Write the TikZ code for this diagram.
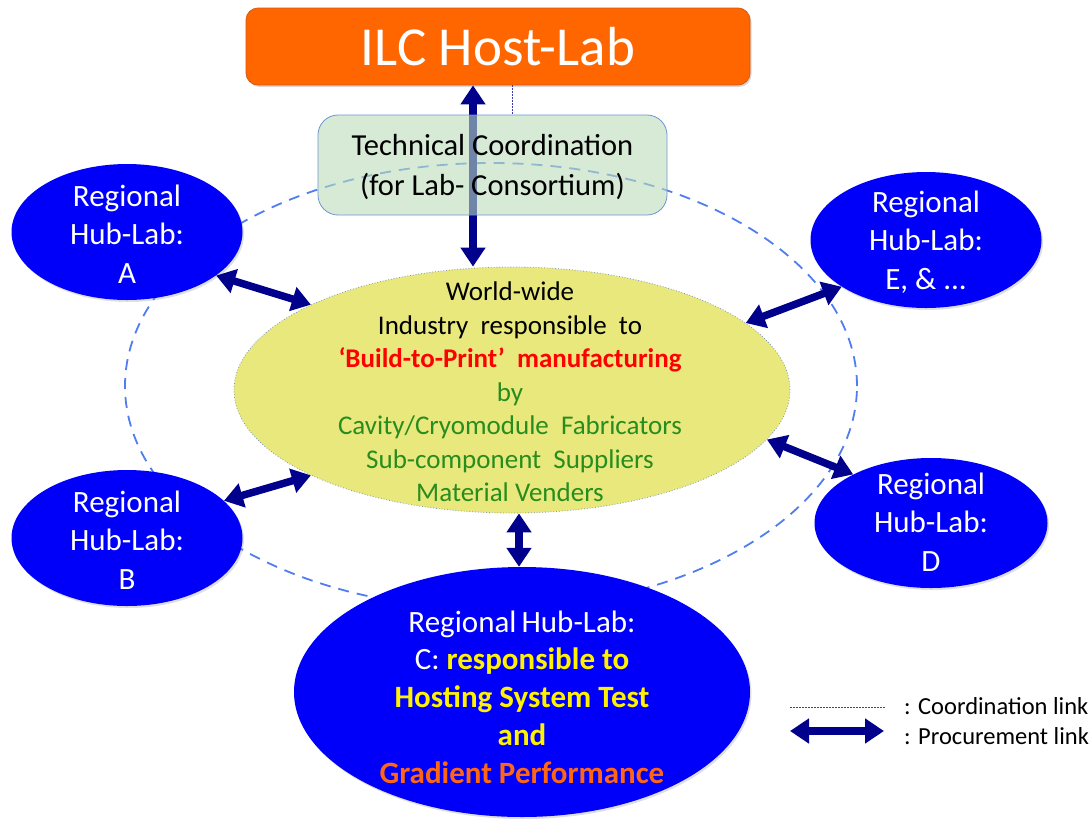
\documentclass[tikz,border=0pt]{standalone}
\usepackage{fontspec}
\setmainfont{Carlito}
\usetikzlibrary{arrows.meta,shapes.geometric,shadows}
\definecolor{hostor}{RGB}{255,102,0}
\definecolor{hostedge}{RGB}{215,90,20}
\definecolor{hubblue}{RGB}{0,0,250}
\definecolor{navyarr}{RGB}{0,0,140}
\definecolor{ringblue}{RGB}{80,125,240}
\definecolor{indyel}{RGB}{232,232,125}
\definecolor{indedge}{RGB}{130,150,180}
\definecolor{techgreen}{RGB}{187,220,187}
\definecolor{techedge}{RGB}{110,150,210}
\definecolor{txtgreen}{RGB}{40,140,30}
\definecolor{gradorange}{RGB}{255,102,20}
\definecolor{coordline}{RGB}{60,60,180}
\begin{document}
\begin{tikzpicture}[x=1pt,y=-1pt,
  hub/.style={ellipse, fill=hubblue, draw=none, inner sep=0pt,
    minimum width=231pt, minimum height=136pt,
    drop shadow={opacity=0.25, shadow xshift=1.5pt, shadow yshift=-2pt}},
  hubtext/.style={text=white, align=center, inner sep=0pt,
    font=\fontsize{31}{38.5}\selectfont},
  proc/.style={draw=navyarr, line width=7.5pt,
    {Triangle[length=19pt,width=24pt]}-{Triangle[length=19pt,width=24pt]}},
  coordlink/.style={draw=coordline, line width=1pt, dash pattern=on 2pt off 1pt},
  legtext/.style={anchor=west, inner sep=0pt, font=\fontsize{24.5}{28}\selectfont}]
\useasboundingbox (0,0) rectangle (1090,828);
\fill[white] (0,0) rectangle (1090,828);

% dashed ring
\node[ellipse, draw=ringblue, line width=1.8pt, dash pattern=on 11pt off 8pt,
  minimum width=732pt, minimum height=446pt, inner sep=0pt] (ring) at (491,386) {};

% industry ellipse
\node[ellipse, fill=indyel, draw=indedge, line width=0.8pt, dotted,
  minimum width=556pt, minimum height=246pt, inner sep=0pt] (ind) at (512,390) {};

% host lab
\node[rectangle, rounded corners=12pt, fill=hostor, draw=hostedge, line width=0.8pt,
  minimum width=504pt, minimum height=77pt, inner sep=0pt,
  drop shadow={opacity=0.3, shadow xshift=1.5pt, shadow yshift=-2pt},
  text=white, font=\fontsize{55}{60}\selectfont] (host) at (498,46.5) {ILC Host-Lab};

% top procurement arrow (under the tech box)
\coordinate (topx) at (473,0);
\draw[proc] (topx |- host.south) -- (topx |- ind.north);

% technical coordination box (semi-transparent) and coordination link
\coordinate (cox) at (512,0);
\node[rectangle, rounded corners=20pt, fill=techgreen, fill opacity=0.6,
  draw=techedge, line width=0.8pt, minimum width=349pt, minimum height=100pt,
  inner sep=0pt] (tech) at (492.5,165) {};
\node[align=center, inner sep=0pt, font=\fontsize{30.5}{40}\selectfont] (techt)
  at (492.5,167) {Technical Coordination\\(for Lab- Consortium)};
\draw[coordlink] (cox |- host.south) -- (cox |- tech.north);

% hubs
\node[hub] (A) at (127,232) {};
\node[hubtext] (At) at (127,234) {Regional\\Hub-Lab:\\A};
\node[hub] (B) at (127,538) {};
\node[hubtext] (Bt) at (127,540) {Regional\\Hub-Lab:\\B};
\node[hub] (E) at (926,240) {};
\node[hubtext] (Et) at (926,242) {Regional\\Hub-Lab:\\E, \& ...};
\node[hub, minimum width=233pt, minimum height=130pt] (D) at (931,523) {};
\node[hubtext] (Dt) at (931,522) {Regional\\Hub-Lab:\\D};
\node[hub, minimum width=456pt, minimum height=250pt] (C) at (522,692) {};
\node[align=center, inner sep=0pt, text=white,
  font=\fontsize{31}{37.7}\selectfont] (Ct) at (522,697)
  {Regional\,Hub-Lab:\\C: \textcolor{yellow}{\bfseries responsible to}\\
   \textcolor{yellow}{\bfseries Hosting System Test}\\
   \textcolor{yellow}{\bfseries and}\\
   \textcolor{gradorange}{\bfseries Gradient Performance}};

% industry text
\node[align=center, inner sep=0pt, font=\fontsize{27}{33.5}\selectfont] (indt)
  at (510,392)
  {World-wide\\
   Industry \ responsible \ to\\
   \textcolor{red}{\bfseries ‘Build-to-Print’ \ manufacturing}\\
   \textcolor{txtgreen}{by}\\
   \textcolor{txtgreen}{Cavity/Cryomodule \ Fabricators}\\
   \textcolor{txtgreen}{Sub-component \ Suppliers}\\
   \textcolor{txtgreen}{Material Venders}};

% procurement arrows
\draw[proc] (A.-26) -- (ind.157.4);
\draw[proc] (B.21) -- (ind.-157.7);
\draw[proc] (E.209.7) -- (ind.16.8);
\draw[proc] (D.148.3) -- (ind.-11.5);
\coordinate (cx) at (519,0);
\draw[proc] (cx |- ind.south) -- (cx |- C.north);

% legend
\coordinate (l1a) at (790,707);
\coordinate (l1b) at (885,707);
\coordinate (l2a) at (790,731);
\coordinate (l2b) at (884,731);
\draw[coordlink] (l1a) -- (l1b);
\draw[proc] (l2a) -- (l2b);
\node[legtext] (lt1) at (904,706) {: Coordination link};
\node[legtext] (lt2) at (904,736) {: Procurement link};
\end{tikzpicture}
\end{document}
